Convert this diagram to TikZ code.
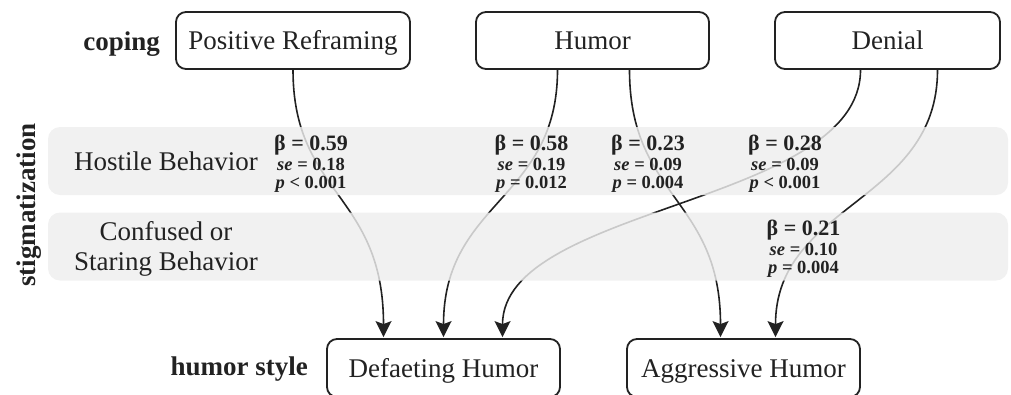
\documentclass[tikz,border=0pt]{standalone}
\usepackage{fontspec}
\setmainfont{Liberation Serif}
\usetikzlibrary{arrows.meta}
\definecolor{ink}{HTML}{222222}
\definecolor{bandfill}{gray}{0.935}
\tikzset{
  cbox/.style={draw=ink, line width=1.8pt, rounded corners=10pt, minimum width=#1,
    minimum height=57pt, inner sep=0pt, text height=18.5pt, text depth=0pt,
    font=\fontsize{27}{31}\selectfont, text=ink},
  band/.style={fill=bandfill, fill opacity=0.82, rounded corners=12pt,
    minimum width=960pt, minimum height=68pt, inner sep=0pt},
  conn/.style={draw=ink, line width=1.6pt, shorten >=1pt,
    -{Stealth[length=16pt,width=16pt,inset=3pt]}},
  biglab/.style={font=\fontsize{27}{31}\selectfont, text=ink, inner sep=0pt, anchor=base},
  headlab/.style={font=\bfseries\fontsize{27}{31}\selectfont, text=ink, inner sep=0pt},
  betalab/.style={font=\bfseries\fontsize{22}{24}\selectfont, text=ink, inner sep=0pt, anchor=base},
  selab/.style={font=\bfseries\fontsize{18.5}{20}\selectfont, text=ink, inner sep=0pt, anchor=base},
}
\newcommand\coefblock[7]{%
  \node[betalab] (#1b) at (#2,#3) {β = #4};
  \node[selab] (#1s) at (#2,#3+20) {\textit{se} = #5};
  \node[selab] (#1p) at (#2,#3+38) {\textit{p} #6 #7};
}
\begin{document}
\begin{tikzpicture}[x=1pt,y=-1pt]
\useasboundingbox (0,0) rectangle (1011,394);
% boxes
\node[cbox=234pt] (pr) at (293,40.5) {Positive Reframing};
\node[cbox=233pt] (hu) at (592.5,40.5) {Humor};
\node[cbox=225pt] (de) at (887.5,40.5) {Denial};
\node[cbox=233pt, minimum height=58pt] (dh) at (443.5,368) {Defaeting Humor};
\node[cbox=233pt, minimum height=58pt] (ah) at (743.5,368) {Aggressive Humor};
% connectors
\draw[conn] (pr.south) .. controls +(0,125) and +(0,-145) .. ([xshift=-60pt]dh.north);
\draw[conn] ([xshift=-35pt]hu.south) .. controls +(0,130) and +(0,-137) .. ([xshift=0pt]dh.north);
\draw[conn] ([xshift=37pt]hu.south) .. controls +(0,128) and +(0,-140) .. ([xshift=-23pt]ah.north);
\draw[conn] ([xshift=-27pt]de.south) .. controls +(0,135) and +(0,-133) .. ([xshift=59pt]dh.north);
\draw[conn] ([xshift=50pt]de.south) .. controls +(0,133) and +(0,-135) .. ([xshift=32pt]ah.north);
% bands
\node[band] (band1) at (528,161) {};
\node[band] (band2) at (528,246.5) {};
% labels
\node[headlab, anchor=base east] (coping) at (160,50) {coping};
\node[headlab, anchor=base east] (hstyle) at (308,375) {humor style};
\node[headlab, rotate=90] (stig) at (29,205) {stigmatization};
\node[biglab] (hostile) at (166,170) {Hostile Behavior};
\node[biglab] (conf1) at (166,240) {Confused or};
\node[biglab] (conf2) at (166,270) {Staring Behavior};
\coefblock{c1}{311}{150}{0.59}{0.18}{<}{0.001}
\coefblock{c2}{531.5}{150}{0.58}{0.19}{=}{0.012}
\coefblock{c3}{648}{150}{0.23}{0.09}{=}{0.004}
\coefblock{c4}{785}{150}{0.28}{0.09}{<}{0.001}
\coefblock{c5}{803.5}{235}{0.21}{0.10}{=}{0.004}
\end{tikzpicture}
\end{document}
